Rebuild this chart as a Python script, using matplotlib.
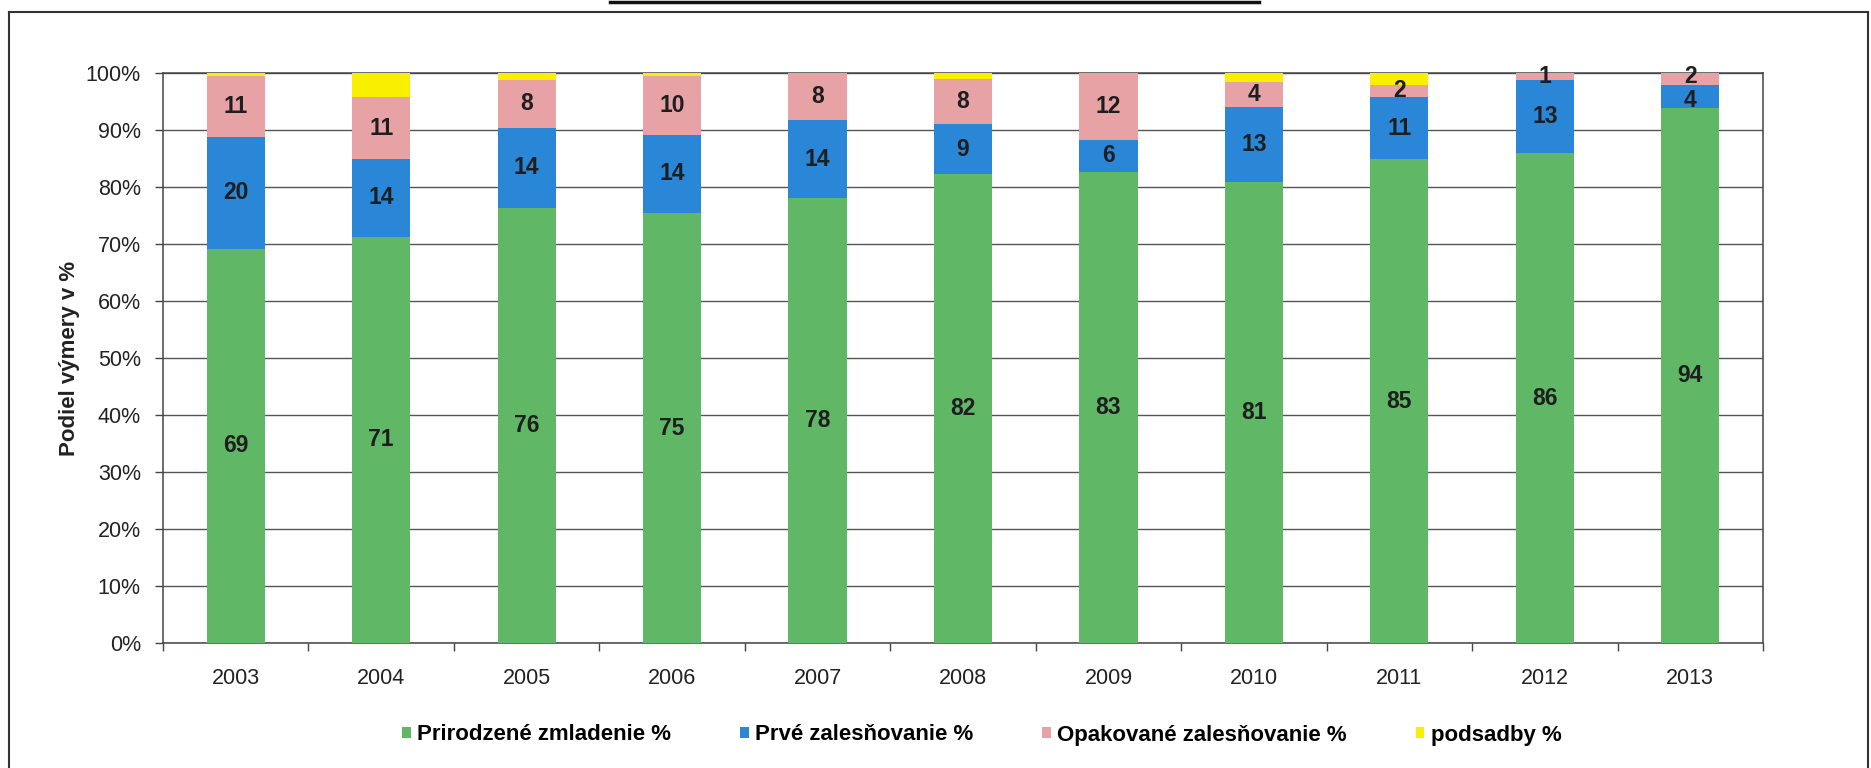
import matplotlib
matplotlib.use("Agg")
import matplotlib.pyplot as plt
from matplotlib.patches import Patch
from matplotlib.lines import Line2D

plt.rcParams['font.family'] = ['Liberation Sans', 'DejaVu Sans']

years = ['2003', '2004', '2005', '2006', '2007', '2008', '2009', '2010', '2011', '2012', '2013']
prirodzene = [69.2, 71.3, 76.4, 75.4, 78.1, 82.2, 82.6, 80.8, 84.9, 85.9, 93.8]
prve = [19.6, 13.6, 14.0, 13.8, 13.6, 8.8, 5.7, 13.3, 10.9, 12.9, 4.1]
opakovane = [10.6, 10.9, 8.4, 10.3, 8.3, 8.0, 11.7, 4.4, 2.1, 1.2, 2.1]
podsadby = [0.6, 4.2, 1.2, 0.5, 0.0, 1.0, 0.0, 1.5, 2.1, 0.0, 0.0]
series_names = ['Prirodzené zmladenie %', 'Prvé zalesňovanie %',
                'Opakované zalesňovanie %', 'podsadby %']
yticks = [0, 10, 20, 30, 40, 50, 60, 70, 80, 90, 100]

colors = ['#60b866', '#2a86d7', '#e7a2a6', '#f8f000']

W, H = 1871, 768
fig = plt.figure(figsize=(W/100, H/100), dpi=100)
ax = fig.add_axes([163/W, 1-643/H, 1600/W, 570/H])

x = list(range(len(years)))
w = 0.4
bottom = [0.0]*len(years)
all_series = [prirodzene, prve, opakovane, podsadby]
label_sets = []
for i, (vals, col) in enumerate(zip(all_series, colors)):
    bars = ax.bar(x, vals, w, bottom=bottom, color=col, zorder=3, linewidth=0)
    if i < 3:
        texts = ax.bar_label(bars, labels=[f"{round(v)}" for v in vals], label_type='center',
                             fontsize=16.5, fontweight='bold', color='#1e1e1e', zorder=4)
        label_sets.append(texts)
    bottom = [b + v for b, v in zip(bottom, vals)]

# nudge crowded labels of the thin top segments apart slightly
for j in range(len(years)):
    if opakovane[j] < 3 and prve[j] < 6:
        label_sets[1][j].xyann = (0, -3)
        label_sets[2][j].xyann = (0, 2)

ax.set_xlim(-0.5, len(years)-0.5)
ax.set_ylim(0, 100)
ax.set_yticks(yticks)
ax.set_yticklabels([f"{t}%" for t in yticks])
ax.set_xticks(x)
ax.set_xticklabels(years)
ax.set_xticks([i + 0.5 for i in range(-1, len(years))], minor=True)
ax.tick_params(axis='x', which='major', length=0, pad=18, labelsize=15.5, colors='#222222')
ax.tick_params(axis='x', which='minor', length=6, width=1, color='#444444')
ax.tick_params(axis='y', length=6, width=1, color='#444444', pad=10, labelsize=15.5, labelcolor='#222222')
ax.yaxis.grid(True, color='#555555', linewidth=1.0, zorder=0)
ax.set_axisbelow(True)
for s in ax.spines.values():
    s.set_color('#444444')
    s.set_linewidth(1.1)

ax.set_ylabel('Podiel výmery v %', fontsize=16, fontweight='bold', color='#222222')
ax.yaxis.label.set_va('center')
ax.yaxis.set_label_coords((70-163)/1600, 0.5)

handles = [Patch(facecolor=c, edgecolor='none') for c in colors]
fig.legend(handles, series_names, loc='center', bbox_to_anchor=(982/W, 1-735/H), ncol=4,
           frameon=False, prop={'size': 16, 'weight': 'bold'}, handlelength=0.38, handleheight=0.4,
           handletextpad=0.3, columnspacing=3.1, borderpad=0)

# outer chart frame
fig.add_artist(Line2D([9/W, 1868/W], [1-12/H, 1-12/H], color='#333333', lw=1.5))
fig.add_artist(Line2D([9/W, 9/W], [0, 1-12/H], color='#333333', lw=1.5))
fig.add_artist(Line2D([1868/W, 1868/W], [0, 1-12/H], color='#333333', lw=1.5))
fig.add_artist(Line2D([610/W, 1259/W], [1-1.5/H, 1-1.5/H], color='#111111', lw=2.5))

fig.savefig('out.png', dpi=100)
